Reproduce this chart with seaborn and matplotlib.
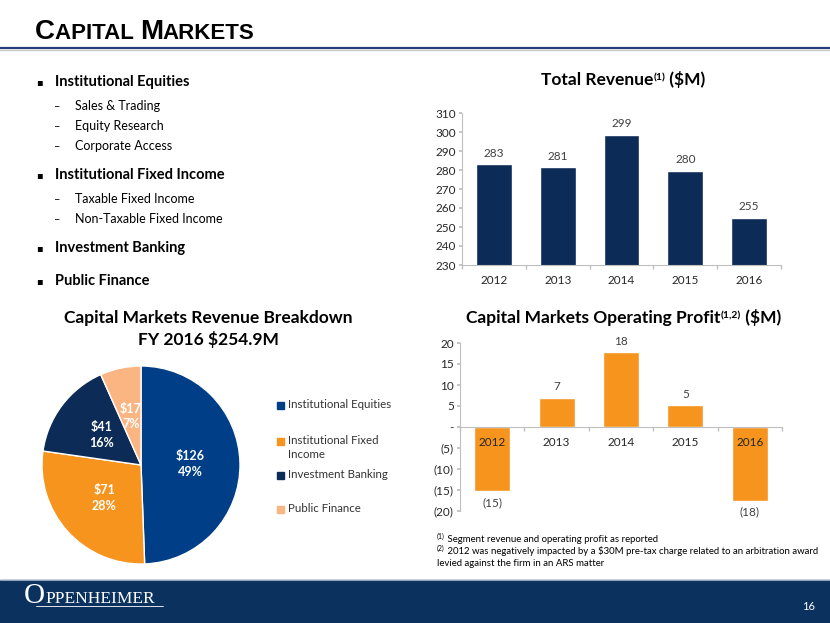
import numpy as np
import pandas as pd
import matplotlib
matplotlib.use('Agg')
import matplotlib.pyplot as plt
from matplotlib.patches import Rectangle
from matplotlib.lines import Line2D
from matplotlib.ticker import FuncFormatter, FixedLocator
import seaborn as sns

# data
years = ['2012', '2013', '2014', '2015', '2016']
revenue = [283.0, 281.4, 298.6, 279.6, 254.9]
op_profit = [-15.3, 7.0, 17.8, 5.2, -17.6]

segments = ['Institutional Equities', 'Institutional Fixed\nIncome', 'Investment Banking', 'Public Finance']
segment_rev = [126, 71, 41, 17]

bullets = [
    ('main', 'Institutional Equities'),
    ('sub', 'Sales & Trading'),
    ('sub', 'Equity Research'),
    ('sub', 'Corporate Access'),
    ('main', 'Institutional Fixed Income'),
    ('sub', 'Taxable Fixed Income'),
    ('sub', 'Non-Taxable Fixed Income'),
    ('main', 'Investment Banking'),
    ('main', 'Public Finance'),
]
bullet_y = [82, 106, 126, 146, 175, 199, 219, 248, 281]
legend_y = [405, 441, 475, 509]

NAVY = '#0D2B57'
ORANGE = '#F7941D'
EQ_BLUE = '#003F87'
PEACH = '#FBB582'
GREY_TXT = '#404040'
AXIS_GREY = '#BFBFBF'
FOOTER = '#0B325F'
pie_colors = [EQ_BLUE, ORANGE, NAVY, PEACH]

sns.set_theme(style='white')
plt.rcParams['font.family'] = ['Lato', 'DejaVu Sans']

W, H = 830, 623
fig = plt.figure(figsize=(8.3, 6.23), dpi=100)
fig.patch.set_facecolor('white')
renderer = fig.canvas.get_renderer()


def fx(x):
    return x / W


def fy(y):
    return 1 - y / H


# Draw pieces of text side by side on one baseline (for small caps / superscripts)
def text_run(x, y, parts, ha='left', **kw):
    texts = []
    cx = x
    for s, size, rise in parts:
        t = fig.text(fx(cx), fy(y - rise), s, fontsize=size, va='baseline', **kw)
        cx = t.get_window_extent(renderer).x1
        texts.append(t)
    if ha == 'center':
        shift = (cx - x) / 2
        for t in texts:
            px, py = t.get_position()
            t.set_x(px - shift / W)
    return texts


# ---- slide header ----
text_run(35, 39, [('C', 20, 0), ('APITAL ', 16, 0), ('M', 20, 0), ('ARKETS', 16, 0)],
         family=['Liberation Sans', 'DejaVu Sans'], weight='bold', color='black')
fig.add_artist(Line2D([0, 1], [fy(48), fy(48)], transform=fig.transFigure, color='#23407A', lw=1.6))
fig.add_artist(Line2D([0, 1], [fy(50), fy(50)], transform=fig.transFigure, color='#C8C8C8', lw=1.0))

# ---- bullet list ----
for (kind, label), y in zip(bullets, bullet_y):
    if kind == 'main':
        fig.text(fx(36), fy(y), '\u25aa', fontsize=7, va='center', color='black',
                 family=['DejaVu Sans'])
        fig.text(fx(55), fy(y), label, fontsize=10.5, weight='bold', va='center', color='black')
    else:
        fig.text(fx(54), fy(y + 1), '\u2013', fontsize=8, va='center', color='black')
        fig.text(fx(75), fy(y), label, fontsize=9, va='center', color='black')

# ---- Total revenue bars ----
ax1 = fig.add_axes([fx(462), fy(265), (781 - 462) / W, (265 - 113) / H])
sns.barplot(x=years, y=revenue, color=NAVY, saturation=1, width=0.56, ax=ax1)
ax1.set_ylim(230, 310)
ax1.set_yticks(np.arange(230, 311, 10))
ax1.set_xlim(-0.5, len(years) - 0.5)
ax1.bar_label(ax1.containers[0], labels=[f'{v:.0f}' for v in revenue],
              padding=4, fontsize=8.5, color=GREY_TXT)
ax1.set_xlabel('')
ax1.set_ylabel('')

# ---- Operating profit bars ----
ax2 = fig.add_axes([fx(460), fy(511), (782 - 460) / W, (511 - 343) / H])
sns.barplot(x=years, y=op_profit, color=ORANGE, saturation=1, width=0.56, ax=ax2)
ax2.set_ylim(-20, 20)
ax2.set_yticks(np.arange(-20, 21, 5))
ax2.set_xlim(-0.5, len(years) - 0.5)
ax2.yaxis.set_major_formatter(FuncFormatter(
    lambda v, p: '-' if v == 0 else (f'({abs(int(v))})' if v < 0 else f'{int(v)}')))
ax2.bar_label(ax2.containers[0],
              labels=[f'({abs(round(v))})' if v < 0 else f'{round(v)}' for v in op_profit],
              padding=4, fontsize=8.5, color=GREY_TXT)
ax2.spines['bottom'].set_position(('data', 0))
ax2.set_xlabel('')
ax2.set_ylabel('')

for ax in (ax1, ax2):
    ax.set_axisbelow(False)
    for side in ('top', 'right'):
        ax.spines[side].set_visible(False)
    for side in ('left', 'bottom'):
        ax.spines[side].set_color(AXIS_GREY)
        ax.spines[side].set_linewidth(0.8)
    ax.xaxis.set_minor_locator(FixedLocator(np.arange(-0.5, len(years), 1.0)))
    ax.tick_params(axis='x', which='major', length=0, pad=7, labelsize=8.5, labelcolor='#262626')
    ax.tick_params(axis='x', which='minor', length=3, color=AXIS_GREY, direction='out', bottom=True)
    ax.tick_params(axis='y', which='major', length=2.5, color=AXIS_GREY, direction='out',
                   left=True, pad=2, labelsize=8.5, labelcolor='#262626')
    ax.set_facecolor('none')

# chart titles
text_run(623, 85, [('Total Revenue', 12.5, 0), ('(1)', 7.5, 5), (' (\\$M)', 12.5, 0)],
         ha='center', weight='bold', color='black')
text_run(624, 323, [('Capital Markets Operating Profit', 12.5, 0), ('(1,2)', 7.5, 5), (' (\\$M)', 12.5, 0)],
         ha='center', weight='bold', color='black')

# footnotes
text_run(437, 542, [('(1)', 5, 3), (' Segment revenue and operating profit as reported', 6.9, 0)],
         color='black')
text_run(437, 554, [('(2)', 5, 3), (' 2012 was negatively impacted by a \\$30M pre-tax charge related to an arbitration award', 6.9, 0)],
         color='black')
fig.text(fx(437), fy(566), 'levied against the firm in an ARS matter', fontsize=6.9,
         va='baseline', color='black')

# ---- pie chart ----
ax3 = fig.add_axes([fx(42), fy(564), 198 / W, 198 / H])
total = sum(segment_rev)
pie_labels = iter([f'\\${v}\n{round(v / total * 100)}%' for v in segment_rev])
wedges, _, autotexts = ax3.pie(segment_rev, colors=pie_colors,
                               startangle=90, counterclock=False,
                               autopct=lambda p: next(pie_labels), pctdistance=0.5,
                               textprops=dict(color='white', weight='bold', fontsize=9))
for t in autotexts:
    t.set_linespacing(1.35)
ax3.set_xlim(-1, 1)
ax3.set_ylim(-1, 1)

text_run(208, 323, [('Capital Markets Revenue Breakdown', 12.5, 0)], ha='center',
         weight='bold', color='black')
text_run(208, 345, [('FY 2016 \\$254.9M', 12.5, 0)], ha='center', weight='bold', color='black')

# legend: square on the first line of each label, like the slide
for label, col, y in zip(segments, pie_colors, legend_y):
    fig.add_artist(Rectangle((fx(277), fy(y + 3.5)), 7 / W, 7 / H, transform=fig.transFigure,
                             color=col))
    fig.text(fx(288), fy(y - 5.5), label, fontsize=8.3, va='top', color='#333333',
             linespacing=1.25)

# ---- footer ----
fig.add_artist(Rectangle((0, 0), 1, fy(580), transform=fig.transFigure, color=FOOTER, zorder=0))
fig.add_artist(Line2D([0, 1], [fy(580), fy(580)], transform=fig.transFigure, color='#8DA0B8', lw=0.8))
text_run(24, 603, [('O', 21, 0), ('PPENHEIMER', 12.5, 0)],
         family=['Liberation Serif', 'DejaVu Serif'], color='white')
fig.add_artist(Line2D([fx(36), fx(163)], [fy(606), fy(606)], transform=fig.transFigure,
                      color='white', lw=0.6))
fig.text(fx(815), fy(607), '16', fontsize=8, color='white', ha='right', va='center')

fig.savefig('out.png', dpi=100)
